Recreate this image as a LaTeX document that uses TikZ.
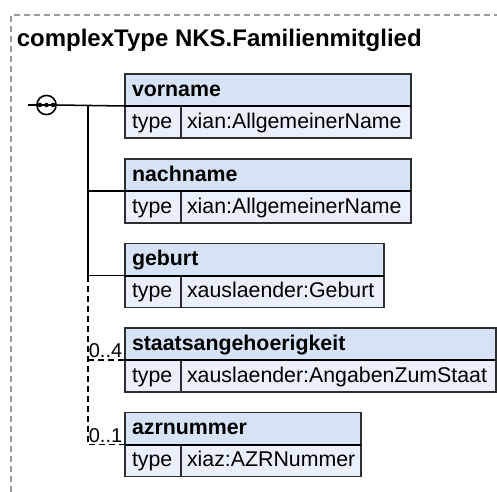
\documentclass[tikz,border=0pt]{standalone}
\usepackage{fontspec}
\setmainfont{Liberation Sans}
\definecolor{hdrfill}{HTML}{D6E3F7}
\definecolor{rowfill}{HTML}{E9F0FB}
\definecolor{boxline}{HTML}{2E2E2E}
\definecolor{framegray}{HTML}{9A9A9A}
\tikzset{
  framebox/.style={draw=framegray, line width=1pt, dash pattern=on 4.5pt off 3pt},
  cell/.style={draw=boxline, line width=0.9pt, anchor=north west, inner ysep=0pt,
    outer sep=0pt, minimum height=24pt, align=left,
    font=\fontsize{16}{19}\selectfont, text height=12.4pt, text depth=3.2pt},
  hdr/.style={cell, fill=hdrfill, inner xsep=5.25pt, font=\bfseries\fontsize{16}{19}\selectfont},
  typ/.style={cell, fill=rowfill, inner xsep=5.25pt, text width=31.5pt},
  val/.style={cell, fill=rowfill, inner xsep=4.5pt},
  sepline/.style={draw=black, line width=1.5pt},
  conn/.style={draw=black, line width=1.15pt},
  dconn/.style={conn, dash pattern=on 4.5pt off 3pt},
  mult/.style={anchor=base east, inner sep=0pt, font=\fontsize{15}{17}\selectfont},
  seqc/.style={circle, draw=black, fill=white, line width=1.2pt, minimum size=14.4pt, inner sep=0pt, outer sep=0pt},
  seqdot/.style={circle, fill=black, minimum size=3.4pt, inner sep=0pt},
}
\begin{document}
\begin{tikzpicture}[x=0.75pt,y=-0.75pt]
\useasboundingbox (0,0) rectangle (497,492);
\draw[framebox] (11,492) -- (11,15) -- (497,15);
\node[anchor=base west, inner sep=0pt, font=\bfseries\fontsize{18}{22}\selectfont] (title) at (16.5,46.5) {complexType NKS.Familienmitglied};

% sequence compositor
\node[seqc] (seq) at (46.5,105) {};
\draw[line width=0.9pt] ([xshift=-5pt]seq.center) -- ([xshift=5pt]seq.center);
\node[seqdot] (d1) at ([xshift=-4.9pt]seq.center) {};
\node[seqdot] (d2) at (seq.center) {};
\node[seqdot] (d3) at ([xshift=4.9pt]seq.center) {};
\coordinate (stub) at (28,105);
\coordinate (trunk) at (88,105);

% vorname
\node[val, text width=163.5pt] (vV) at (181,106) {xian:AllgemeinerName};
\node[typ] (vT) at (125,106) {type};
\node[hdr, text width=204pt] (vH) at (125,74) {vorname};
% nachname
\node[val, text width=163.5pt] (nV) at (181,191) {xian:AllgemeinerName};
\node[typ] (nT) at (125,191) {type};
\node[hdr, text width=204pt] (nH) at (125,159) {nachname};
% geburt
\node[val, text width=143.25pt] (gV) at (181,275.5) {xauslaender:Geburt};
\node[typ] (gT) at (125,275.5) {type};
\node[hdr, text width=183.75pt] (gH) at (125,243.5) {geburt};
% staatsangehoerigkeit
\node[val, text width=227.25pt] (sV) at (181,360) {xauslaender:AngabenZumStaat};
\node[typ] (sT) at (125,360) {type};
\node[hdr, text width=267.75pt] (sH) at (125,328) {staatsangehoerigkeit};
% azrnummer
\node[val, text width=126pt] (aV) at (181,444.5) {xiaz:AZRNummer};
\node[typ] (aT) at (125,444.5) {type};
\node[hdr, text width=166.5pt] (aH) at (125,412.5) {azrnummer};

\foreach \n in {vH,nH,gH,sH,aH}
  \draw[sepline] (\n.south west) -- (\n.south east);

% connectors
\draw[conn] (stub) -- (seq.west);
\draw[conn] (seq.east) -- (vH.south west);
\draw[conn] (trunk) -- (trunk |- gH.south west);
\draw[conn] (trunk |- nH.south west) -- (nH.south west);
\draw[conn] (trunk |- gH.south west) -- (gH.south west);
\draw[dconn] (trunk |- gH.south west) -- (trunk |- aH.south west) -- (aH.south west);
\draw[dconn] (trunk |- sH.south west) -- (sH.south west);

\node[mult] (sM) at (122.5,357.5) {0..4};
\node[mult] (aM) at (122.5,442) {0..1};
\end{tikzpicture}
\end{document}
